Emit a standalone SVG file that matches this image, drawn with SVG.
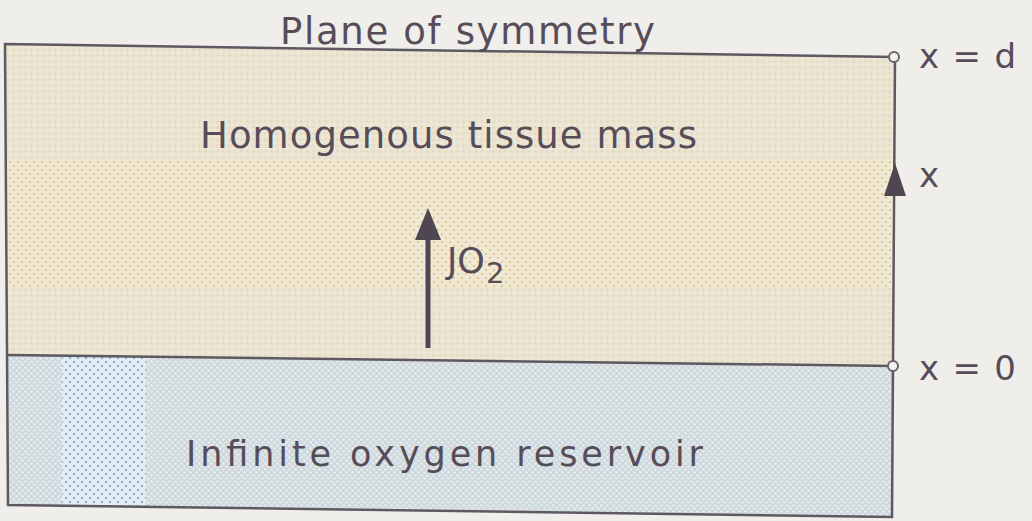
<svg xmlns="http://www.w3.org/2000/svg" width="1032" height="521" viewBox="0 0 1032 521">
<defs>
<style>
.t{font-family:"DejaVu Sans","Liberation Sans",Arial,sans-serif;fill:#574d59}
.edge{fill:none;stroke:#5e5860;stroke-width:2.5}
.arrowline{stroke:#4e4650;stroke-width:5}
.cap{fill:#4e4650}
.node-circle{fill:#f4f2ee;stroke:#6a6468;stroke-width:2}
</style>
<pattern id="beige" width="6" height="6" patternUnits="userSpaceOnUse">
<rect width="6" height="6" fill="#ebe4d1"/>
<circle cx="1.5" cy="1.5" r="1.1" fill="#ddd5c0"/>
<circle cx="4.5" cy="4.5" r="1.1" fill="#f2ece0"/>
</pattern>
<pattern id="orange" width="8" height="8" patternUnits="userSpaceOnUse">
<rect width="8" height="8" fill="#efe9d8"/>
<circle cx="2" cy="2" r="1.1" fill="#e9b95e"/>
<circle cx="6" cy="6" r="1.1" fill="#e9b95e"/>
</pattern>
<pattern id="blue" width="6" height="6" patternUnits="userSpaceOnUse">
<rect width="6" height="6" fill="#cfd8dc"/>
<circle cx="1.5" cy="1.5" r="1.3" fill="#e6eef1"/>
<circle cx="4.5" cy="4.5" r="1.3" fill="#e6eef1"/>
</pattern>
<pattern id="bluedot" width="8" height="8" patternUnits="userSpaceOnUse">
<rect width="8" height="8" fill="#e4edf1"/>
<circle cx="2" cy="2" r="1.1" fill="#5aa3d0"/>
<circle cx="6" cy="6" r="1.1" fill="#5aa3d0"/>
</pattern>
</defs>
<rect width="1032" height="521" fill="#efeeeb"/>

<g id="tissue">
<polygon points="5,44 895,57 893,366 8,355" fill="url(#beige)"/>
<polygon points="6,160 894,160 894,287 7,287" fill="url(#orange)" opacity="0.9"/>
<text class="t" x="200" y="148" font-size="37" textLength="497" lengthAdjust="spacing">Homogenous tissue mass</text>
</g>

<g id="reservoir">
<polygon points="8,355 893,366 892,517 8,505" fill="url(#blue)"/>
<polygon points="62,356 146,357 146,506 62,506" fill="url(#bluedot)"/>
<text class="t" x="186" y="466" font-size="35" textLength="517" lengthAdjust="spacing">Infinite oxygen reservoir</text>
</g>

<g id="outline">
<polygon class="edge" points="5,44 895,57 892,517 8,505"/>
<line class="edge" x1="8" y1="355" x2="893" y2="366"/>
</g>

<g id="plane-label">
<text class="t" x="280" y="44" font-size="37" textLength="375" lengthAdjust="spacing">Plane of symmetry</text>
</g>

<g id="connectors">
<line class="arrowline" x1="428" y1="348" x2="428" y2="236"/>
<polygon class="cap" points="428,208 441,240 415,240"/>
<line stroke="#5e5860" stroke-width="2.5" x1="895" y1="195" x2="895" y2="185"/>
<polygon class="cap" points="895,163 906,196 884,196"/>
</g>

<g id="jo2-label">
<text class="t" x="447" y="273" font-size="35">JO<tspan font-size="29" dx="1" dy="10">2</tspan></text>
</g>

<g id="x-d">
<circle class="node-circle" cx="894" cy="57" r="5"/>
<text class="t" x="919" y="68" font-size="34" textLength="97" lengthAdjust="spacing">x = d</text>
</g>
<g id="x-axis">
<text class="t" x="919" y="187" font-size="34">x</text>
</g>
<g id="x-0">
<circle class="node-circle" cx="893" cy="366" r="5"/>
<text class="t" x="919" y="380" font-size="34" textLength="97" lengthAdjust="spacing">x = 0</text>
</g>
</svg>
